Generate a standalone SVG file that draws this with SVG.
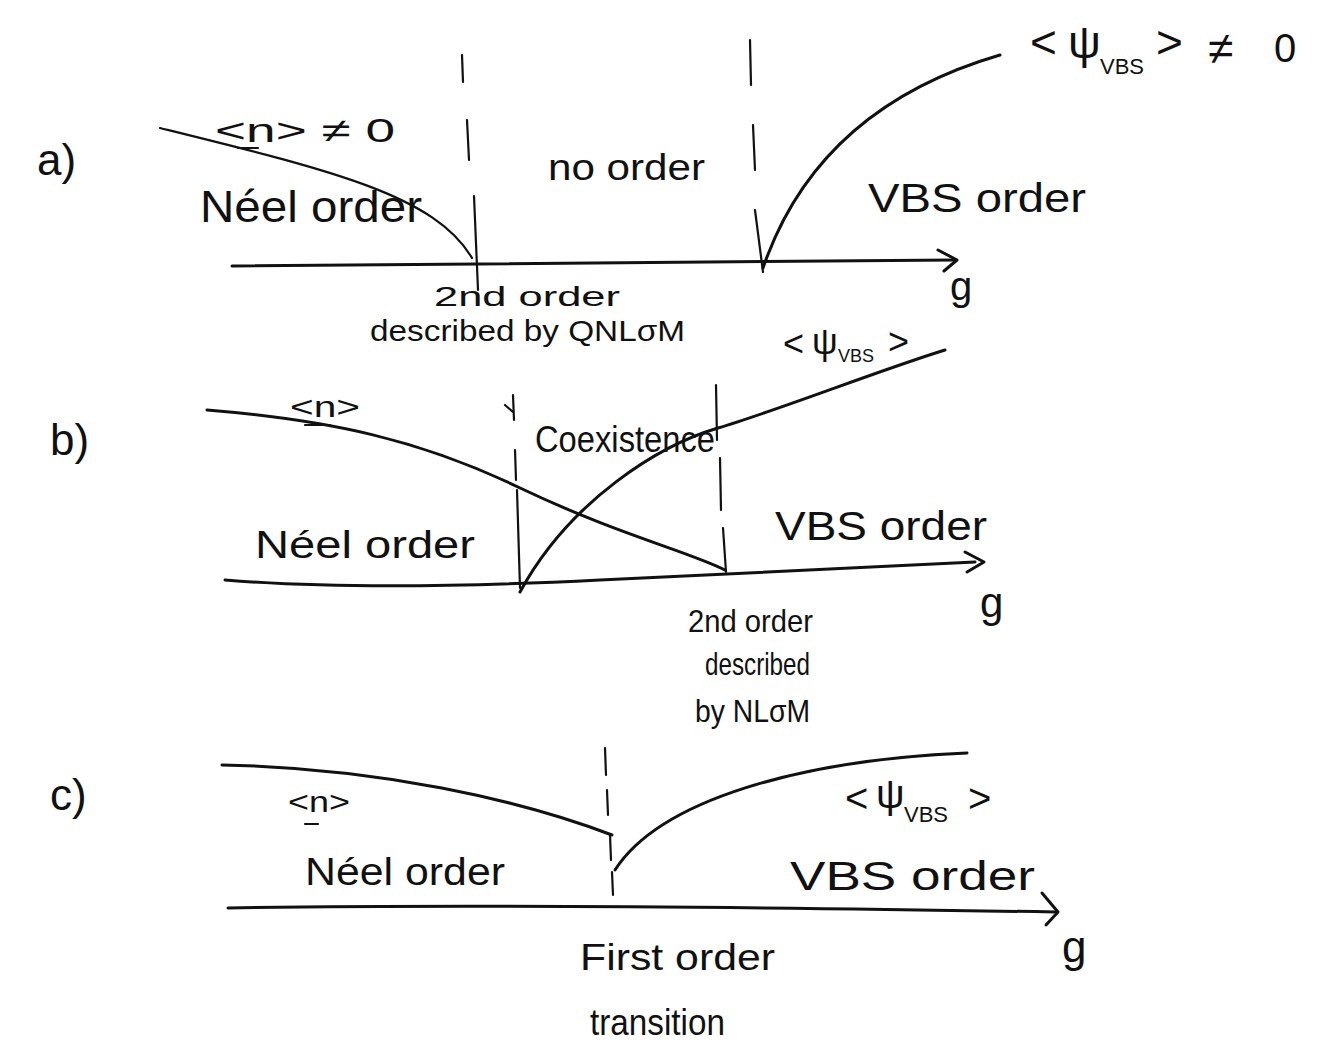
<svg xmlns="http://www.w3.org/2000/svg" width="1343" height="1055" viewBox="0 0 1343 1055">
  <style>
    .ink { fill: none; stroke: #111; stroke-width: 3; stroke-linecap: round; stroke-linejoin: round; }
    .thin { fill: none; stroke: #111; stroke-width: 2.2; stroke-linecap: round; }
    .hand { font-family: "Liberation Sans", "DejaVu Sans", sans-serif; fill: #111; }
  </style>
  <rect width="1343" height="1055" fill="#fff"/>

  <!-- Panel a: Néel order, disordered region, VBS order -->
  <g id="panel-a">
    <text class="hand" x="37" y="175" font-size="44">a)</text>
    <g id="a-curves">
      <path class="thin" d="M160,128 C 330,170 435,195 472,258"/>
      <path class="ink" d="M763,268 C 800,160 880,90 1000,55"/>
      <path class="ink" d="M232,266 L 955,260"/>
      <path class="ink" d="M938,250 L 957,260 L 944,271"/>
      <path class="thin" d="M462,55 L 463,82 M467,120 L 469,160 M474,196 L 478,290"/>
      <path class="thin" d="M750,40 L 751,85 M753,125 L 755,170 M755,210 L 763,272"/>
    </g>
    <text class="hand" x="215" y="142" font-size="34" textLength="180" lengthAdjust="spacingAndGlyphs">&lt;n&gt; ≠ 0</text>
    <line class="thin" x1="238" y1="148" x2="258" y2="148"/>
    <text class="hand" x="548" y="180" font-size="36" textLength="157" lengthAdjust="spacingAndGlyphs">no order</text>
    <text class="hand" x="200" y="222" font-size="44" textLength="222" lengthAdjust="spacingAndGlyphs">Néel order</text>
    <text class="hand" x="868" y="212" font-size="40" textLength="218" lengthAdjust="spacingAndGlyphs">VBS order</text>
    <text class="hand" font-size="46"><tspan x="1030" y="58">&lt;</tspan><tspan x="1068" y="58">ψ</tspan><tspan x="1100" y="74" font-size="22">VBS</tspan><tspan x="1156" y="58">&gt;</tspan><tspan x="1208" y="64">≠</tspan><tspan x="1274" y="62" font-size="40">0</tspan></text>
    <text class="hand" x="950" y="300" font-size="40">g</text>
    <text class="hand" x="434" y="306" font-size="28" textLength="186" lengthAdjust="spacingAndGlyphs">2nd order</text>
    <text class="hand" x="370" y="341" font-size="30" textLength="315" lengthAdjust="spacingAndGlyphs">described by QNLσM</text>
  </g>

  <!-- Panel b: coexistence window between the two transitions -->
  <g id="panel-b">
    <text class="hand" x="50" y="455" font-size="44">b)</text>
    <g id="b-curves">
      <path class="ink" d="M207,410 C 330,420 420,440 518,487 S 690,552 725,570"/>
      <path class="ink" d="M520,592 C 570,500 660,445 718,428 S 880,370 945,350"/>
      <path class="ink" d="M225,580 C 350,590 500,585 600,580 L 975,562"/>
      <path class="ink" d="M965,552 L 984,562 L 967,572"/>
      <path class="thin" d="M505,405 L 513,412 M513,395 L 514,420 M515,450 L 516,480 M517,490 L 520,588"/>
      <path class="thin" d="M716,385 L 717,440 M720,458 L 721,510 M723,528 L 726,572"/>
    </g>
    <text class="hand" x="290" y="417" font-size="30" textLength="70" lengthAdjust="spacingAndGlyphs">&lt;n&gt;</text>
    <line class="thin" x1="305" y1="425" x2="330" y2="425"/>
    <text class="hand" x="535" y="452" font-size="36" textLength="180" lengthAdjust="spacingAndGlyphs">Coexistence</text>
    <text class="hand" font-size="36"><tspan x="783" y="356">&lt;</tspan><tspan x="812" y="354">ψ</tspan><tspan x="838" y="362" font-size="18">VBS</tspan><tspan x="888" y="354">&gt;</tspan></text>
    <text class="hand" x="255" y="558" font-size="38" textLength="220" lengthAdjust="spacingAndGlyphs">Néel order</text>
    <text class="hand" x="775" y="540" font-size="40" textLength="212" lengthAdjust="spacingAndGlyphs">VBS order</text>
    <text class="hand" x="980" y="617" font-size="42">g</text>
    <text class="hand" x="688" y="632" font-size="32" textLength="125" lengthAdjust="spacingAndGlyphs">2nd order</text>
    <text class="hand" x="705" y="675" font-size="32" textLength="105" lengthAdjust="spacingAndGlyphs">described</text>
    <text class="hand" x="695" y="722" font-size="32" textLength="115" lengthAdjust="spacingAndGlyphs">by NLσM</text>
  </g>

  <!-- Panel c: direct first-order transition -->
  <g id="panel-c">
    <text class="hand" x="50" y="810" font-size="44">c)</text>
    <g id="c-curves">
      <path class="ink" d="M222,765 C 380,768 520,800 612,835"/>
      <path class="ink" d="M615,870 C 660,800 800,760 967,753"/>
      <path class="ink" d="M228,908 C 400,905 700,906 1055,912"/>
      <path class="ink" d="M1042,893 L 1058,912 L 1046,925"/>
      <path class="thin" d="M605,748 L 606,775 M607,790 L 608,815 M610,835 L 611,860 M612,872 L 613,895"/>
    </g>
    <text class="hand" x="288" y="812" font-size="30" textLength="62" lengthAdjust="spacingAndGlyphs">&lt;n&gt;</text>
    <line class="thin" x1="305" y1="824" x2="318" y2="824"/>
    <text class="hand" font-size="40"><tspan x="845" y="812">&lt;</tspan><tspan x="876" y="808">ψ</tspan><tspan x="904" y="822" font-size="22">VBS</tspan><tspan x="968" y="812">&gt;</tspan></text>
    <text class="hand" x="305" y="885" font-size="38" textLength="200" lengthAdjust="spacingAndGlyphs">Néel order</text>
    <text class="hand" x="790" y="890" font-size="40" textLength="245" lengthAdjust="spacingAndGlyphs">VBS order</text>
    <text class="hand" x="1062" y="962" font-size="44">g</text>
    <text class="hand" x="580" y="970" font-size="36" textLength="195" lengthAdjust="spacingAndGlyphs">First order</text>
    <text class="hand" x="590" y="1035" font-size="36" textLength="135" lengthAdjust="spacingAndGlyphs">transition</text>
  </g>
</svg>
